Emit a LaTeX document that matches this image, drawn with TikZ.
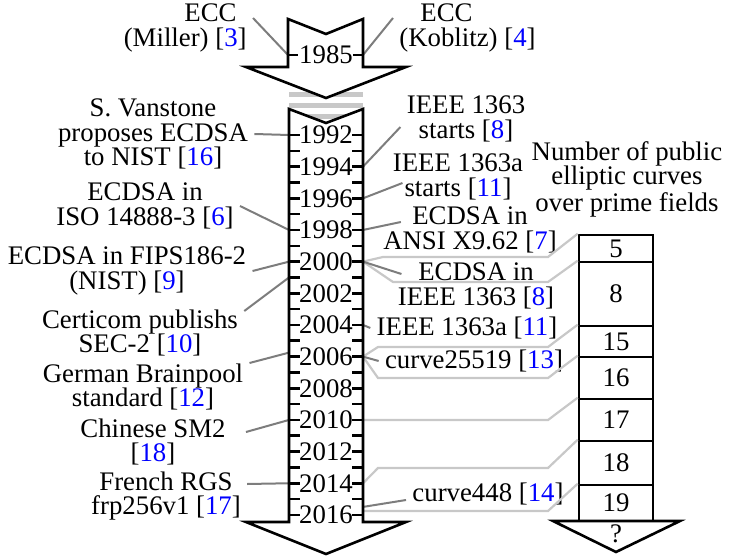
\documentclass[tikz,border=0pt]{standalone}
\usepackage{fontspec}
\setmainfont{Liberation Serif}
\usetikzlibrary{calc}
\definecolor{CiteBlue}{RGB}{0,0,255}
\definecolor{LinkGray}{RGB}{125,125,125}
\definecolor{FanGray}{RGB}{200,200,200}
\newcommand{\rf}[1]{[\textcolor{CiteBlue}{#1}]}

\begin{document}
\begin{tikzpicture}[x=0.5pt,y=-0.5pt,
  font=\fontsize{13.4}{12.2}\selectfont,
  lbl/.style={align=center,inner sep=3pt},
  yearlbl/.style={inner sep=0pt},
  arrowbody/.style={draw=black,line width=1.3pt,fill=white,line join=miter},
  tick/.style={line width=1.3pt},
  link/.style={draw=LinkGray,line width=1pt},
  fan/.style={draw=FanGray,line width=1.1pt},
  brk/.style={draw=FanGray,line width=2.5pt},
  cnt/.style={draw=black,line width=1.3pt,minimum width=37pt,inner sep=0pt},
]
\useasboundingbox (0,0) rectangle (729,556);

% year positions on both edges of the timeline
\coordinate (L1985) at (288,55);
\coordinate (R1985) at (363,55);
\foreach \yr in {1992,...,2016}{
  \pgfmathsetmacro\ty{135+(\yr-1992)*15.83}
  \coordinate (L\yr) at (289,\ty);
  \coordinate (R\yr) at (363,\ty);
}

% events, left
\node[lbl,align=right,anchor=east] (miller) at (253,28) {ECC\hspace*{5pt}\\(Miller) \rf{3}};
\node[lbl] (vanstone) at (153,134) {S. Vanstone\\proposes ECDSA\\to NIST \rf{16}};
\node[lbl] (iso) at (145,206) {ECDSA in\\ISO 14888-3 \rf{6}};
\node[lbl] (fips) at (127,271) {ECDSA in FIPS186-2\\(NIST) \rf{9}};
\node[lbl] (certicom) at (140,333) {Certicom publishs\\SEC-2 \rf{10}};
\node[lbl] (brainpool) at (143,387) {German Brainpool\\standard \rf{12}};
\node[lbl] (chinese) at (153,442) {Chinese SM2\\\rf{18}};
\node[lbl] (french) at (166,496) {French RGS\\frp256v1 \rf{17}};

% events, right
\node[lbl,align=left,anchor=west] (koblitz) at (393,28) {\hspace*{10.5pt}ECC\\(Koblitz) \rf{4}};
\node[lbl] (ieeestart) at (466,119) {IEEE 1363\\starts \rf{8}};
\node[lbl] (ieeeastart) at (458,177) {IEEE 1363a\\starts \rf{11}};
\node[lbl] (ansi) at (470,230) {ECDSA in\\ANSI X9.62 \rf{7}};
\node[lbl] (ieee8) at (476,286) {ECDSA in\\IEEE 1363 \rf{8}};
\node[lbl] (ieeea11) at (467,328) {IEEE 1363a \rf{11}};
\node[lbl] (c25519) at (474,361) {curve25519 \rf{13}};
\node[lbl] (c448) at (488,494) {curve448 \rf{14}};

% curve counts
\node[lbl] (header) at (627,179) {Number of public\\elliptic curves\\over prime fields};
\node[cnt,minimum height=13.5pt] (c5) at (616,248.5) {5};
\node[cnt,minimum height=32pt] (c8) at (616,294) {8};
\node[cnt,minimum height=15.5pt] (c15) at (616,341.5) {15};
\node[cnt,minimum height=21pt] (c16) at (616,378) {16};
\node[cnt,minimum height=21pt] (c17) at (616,420) {17};
\node[cnt,minimum height=22pt] (c18) at (616,463) {18};
\node[cnt,minimum height=18pt] (c19) at (616,503) {19};
\draw[arrowbody] (553,521) -- (680,521) -- (616,552) -- cycle;
\node[yearlbl] (qm) at (616,534) {?};

% gap between 1985 and 1992
\draw[brk] (289,95) -- (363,95);
\draw[brk] (289,106) -- (363,106);
\draw[brk] (289,117) -- (363,117);

% count fans
\draw[fan] (R2000) -- (383,257) -- (548,257) -- (c5.north west);
\draw[fan] (R2000) -- (393,282) -- (548,282) -- (c8.north west);
\draw[fan] (R2006) -- (378,347) -- (548,347) -- (c15.north west);
\draw[fan] (R2006) -- (378,378) -- (548,378) -- (c16.north west);
\draw[fan] (R2010) -- (548,420) -- (c17.north west);
\draw[fan] (R2014) -- (378,468) -- (548,468) -- (c18.north west);
\draw[fan] ([yshift=2pt]R2016) -- (548,511) -- (c19.north west);

% event links
\draw[link] ([yshift=5pt]miller.east) -- (L1985);
\draw[link] ([yshift=5pt]koblitz.west) -- (R1985);
\draw[link] (vanstone.east) -- (L1992);
\draw[link] (iso.east) -- (L1998);
\draw[link] (fips.east) -- (L2000);
\draw[link] ([yshift=11pt]certicom.east) -- (L2001);
\draw[link] ([yshift=12pt]brainpool.east) -- ([yshift=2pt]L2006);
\draw[link] ([xshift=7pt,yshift=5pt]chinese.east) -- (L2010);
\draw[link] ([yshift=6pt]french.east) -- (L2014);
\draw[link] ([yshift=-4pt]ieeestart.west) -- (R1994);
\draw[link] ([xshift=8pt,yshift=-3pt]ieeeastart.west) -- (R1996);
\draw[link] ([xshift=12pt,yshift=4pt]ansi.west) -- (R1998);
\draw[link] ([xshift=5pt,yshift=6pt]ieee8.west) -- (R2000);
\draw[link] (ieeea11.west) -- (R2004);
\draw[link] (c25519.west) -- (R2006);
\draw[link] ([yshift=-3pt]c448.west) -- ([yshift=4pt]R2016);

% 1985 arrow
\draw[arrowbody] (288,19) -- (326,34) -- (363,19) -- (363,67) -- (406,67)
  -- (326,98) -- (246,67) -- (288,67) -- cycle;
\draw[tick] (L1985) -- ++(10,0);
\draw[tick] (R1985) -- ++(-10,0);
\node[yearlbl] (Y1985) at (326,55) {1985};

% timeline 1992--2016
\draw[arrowbody] (289,109) -- (326,123) -- (363,109) -- (363,522) -- (406,522)
  -- (326,554) -- (246,522) -- (289,522) -- cycle;
\foreach \yr in {1992,...,2016}{
  \draw[tick] (L\yr) -- ++(11,0);
  \draw[tick] (R\yr) -- ++(-11,0);
}
\foreach \yr in {1992,1994,...,2016}
  \node[yearlbl] (Y\yr) at (326,{135+(\yr-1992)*15.83}) {\yr};
\end{tikzpicture}
\end{document}
